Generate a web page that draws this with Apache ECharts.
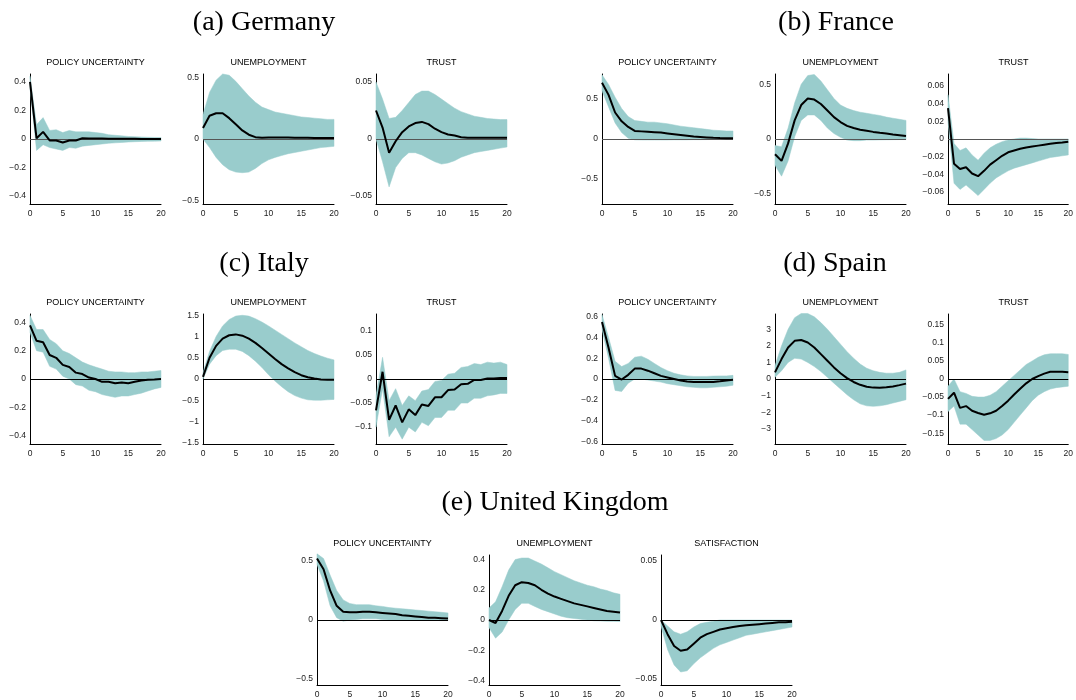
<!DOCTYPE html>
<html><head><meta charset="utf-8">
<script src="https://cdn.jsdelivr.net/npm/echarts@6/dist/echarts.min.js"></script>
<style>html,body{margin:0;padding:0;background:#fff}#c{width:1076px;height:700px}</style>
</head><body><div id="c"></div>
<script>
// horizon steps
const steps = [0,1,2,3,4,5,6,7,8,9,10,11,12,13,14,15,16,17,18,19,20];
const xTicks = [0,5,10,15,20];

// section titles
const sections = ['(a) Germany','(b) France','(c) Italy','(d) Spain','(e) United Kingdom'];
const panelTitles = ['POLICY UNCERTAINTY','UNEMPLOYMENT','TRUST','SATISFACTION'];

// Germany
const dePolicy   = [0.40,0.005,0.05,-0.01,-0.01,-0.025,-0.01,-0.01,0.005,0.004,0.004,0.003,0.002,0.002,0.001,0.001,0.001,0.0,0.0,0.0,0.0];
const dePolicyLo = [0.36,-0.08,-0.04,-0.06,-0.07,-0.08,-0.06,-0.065,-0.05,-0.045,-0.04,-0.035,-0.03,-0.027,-0.024,-0.021,-0.019,-0.017,-0.016,-0.015,-0.014];
const dePolicyHi = [0.44,0.10,0.15,0.06,0.065,0.045,0.06,0.05,0.05,0.05,0.045,0.04,0.03,0.026,0.022,0.018,0.016,0.014,0.012,0.011,0.01];
const deUnemp    = [0.09,0.19,0.21,0.21,0.17,0.12,0.07,0.035,0.015,0.01,0.012,0.012,0.013,0.012,0.011,0.01,0.01,0.009,0.009,0.008,0.008];
const deUnempLo  = [0.0,-0.07,-0.15,-0.21,-0.25,-0.27,-0.275,-0.27,-0.24,-0.2,-0.17,-0.15,-0.135,-0.12,-0.11,-0.1,-0.09,-0.08,-0.07,-0.065,-0.06];
const deUnempHi  = [0.2,0.38,0.48,0.53,0.52,0.47,0.41,0.35,0.3,0.26,0.24,0.22,0.21,0.2,0.19,0.18,0.175,0.17,0.165,0.16,0.16];
const deTrust    = [0.025,0.01,-0.012,-0.002,0.006,0.011,0.014,0.015,0.013,0.009,0.006,0.004,0.003,0.0015,0.001,0.001,0.001,0.001,0.001,0.001,0.001];
const deTrustLo  = [0.0,-0.02,-0.042,-0.025,-0.017,-0.012,-0.012,-0.014,-0.017,-0.02,-0.022,-0.021,-0.019,-0.016,-0.014,-0.012,-0.011,-0.01,-0.009,-0.008,-0.007];
const deTrustHi  = [0.05,0.035,0.018,0.019,0.025,0.032,0.039,0.042,0.042,0.039,0.035,0.031,0.027,0.024,0.022,0.02,0.019,0.018,0.0175,0.017,0.017];

// France
const frPolicy   = [0.70,0.55,0.33,0.22,0.15,0.10,0.095,0.09,0.085,0.08,0.07,0.06,0.05,0.04,0.03,0.025,0.02,0.015,0.012,0.01,0.01];
const frPolicyLo = [0.60,0.40,0.20,0.08,0.01,-0.01,-0.012,-0.012,-0.012,-0.012,-0.012,-0.01,-0.01,-0.01,-0.008,-0.008,-0.007,-0.006,-0.006,-0.005,-0.005];
const frPolicyHi = [0.80,0.68,0.52,0.38,0.28,0.23,0.22,0.21,0.21,0.2,0.19,0.175,0.16,0.15,0.14,0.13,0.12,0.11,0.105,0.1,0.1];
const frUnemp    = [-0.14,-0.2,-0.04,0.17,0.31,0.37,0.36,0.32,0.26,0.2,0.155,0.12,0.1,0.085,0.075,0.065,0.057,0.05,0.042,0.035,0.028];
const frUnempLo  = [-0.24,-0.34,-0.2,0.02,0.17,0.22,0.22,0.17,0.1,0.05,0.015,-0.01,-0.015,-0.015,-0.01,-0.01,-0.008,-0.007,-0.006,-0.005,-0.005];
const frUnempHi  = [-0.06,-0.07,0.1,0.33,0.5,0.58,0.59,0.53,0.45,0.37,0.31,0.28,0.26,0.245,0.235,0.225,0.215,0.2,0.19,0.18,0.17];
const frTrust    = [0.035,-0.028,-0.034,-0.032,-0.039,-0.042,-0.036,-0.029,-0.024,-0.019,-0.015,-0.013,-0.011,-0.0095,-0.0085,-0.0075,-0.0065,-0.0055,-0.0045,-0.004,-0.003];
const frTrustLo  = [0.02,-0.05,-0.057,-0.052,-0.058,-0.064,-0.057,-0.05,-0.044,-0.04,-0.036,-0.033,-0.031,-0.029,-0.027,-0.025,-0.023,-0.021,-0.02,-0.019,-0.018];
const frTrustHi  = [0.05,-0.005,-0.013,-0.01,-0.018,-0.024,-0.016,-0.01,-0.006,-0.003,-0.001,0.0,0.001,0.001,0.0005,0.0,0.0,0.0,0.0,0.0,0.0];

// Italy
const itPolicy   = [0.38,0.27,0.26,0.17,0.15,0.10,0.085,0.045,0.035,0.01,0.0,-0.02,-0.02,-0.03,-0.025,-0.03,-0.02,-0.01,-0.005,-0.003,0.0];
const itPolicyLo = [0.33,0.2,0.19,0.09,0.07,0.02,0.0,-0.04,-0.05,-0.08,-0.09,-0.11,-0.12,-0.13,-0.12,-0.12,-0.11,-0.1,-0.085,-0.07,-0.06];
const itPolicyHi = [0.45,0.35,0.35,0.28,0.25,0.2,0.18,0.15,0.12,0.1,0.085,0.07,0.055,0.05,0.05,0.045,0.045,0.05,0.05,0.055,0.06];
const itUnemp    = [0.05,0.5,0.78,0.95,1.03,1.05,1.02,0.95,0.85,0.73,0.6,0.47,0.35,0.25,0.16,0.09,0.04,0.01,-0.01,-0.02,-0.02];
const itUnempLo  = [0.0,0.35,0.55,0.67,0.7,0.7,0.65,0.55,0.42,0.27,0.1,-0.05,-0.18,-0.3,-0.39,-0.45,-0.49,-0.5,-0.5,-0.49,-0.48];
const itUnempHi  = [0.15,0.65,1.0,1.25,1.4,1.48,1.5,1.48,1.42,1.34,1.25,1.15,1.05,0.95,0.85,0.76,0.67,0.6,0.54,0.49,0.45];
const itTrust    = [-0.065,0.015,-0.085,-0.055,-0.09,-0.063,-0.075,-0.053,-0.056,-0.038,-0.038,-0.023,-0.022,-0.011,-0.01,-0.002,-0.002,0.001,0.001,0.002,0.002];
const itTrustLo  = [-0.1,-0.02,-0.12,-0.1,-0.125,-0.1,-0.11,-0.09,-0.097,-0.08,-0.08,-0.065,-0.065,-0.05,-0.05,-0.04,-0.04,-0.035,-0.033,-0.03,-0.03];
const itTrustHi  = [-0.035,0.045,-0.045,-0.02,-0.055,-0.035,-0.045,-0.025,-0.022,-0.005,-0.003,0.01,0.012,0.024,0.026,0.032,0.03,0.035,0.033,0.035,0.03];

// Spain
const esPolicy   = [0.55,0.3,0.03,-0.005,0.04,0.1,0.1,0.08,0.055,0.03,0.015,0.0,-0.015,-0.025,-0.03,-0.03,-0.03,-0.028,-0.022,-0.015,-0.008];
const esPolicyLo = [0.48,0.2,-0.11,-0.12,-0.04,0.0,0.0,-0.01,-0.02,-0.03,-0.045,-0.055,-0.065,-0.075,-0.08,-0.085,-0.085,-0.08,-0.075,-0.07,-0.06];
const esPolicyHi = [0.62,0.4,0.17,0.12,0.15,0.21,0.22,0.19,0.15,0.11,0.08,0.055,0.04,0.03,0.025,0.025,0.025,0.028,0.03,0.03,0.035];
const esUnemp    = [0.4,1.2,1.9,2.3,2.35,2.2,1.9,1.5,1.1,0.7,0.35,0.05,-0.18,-0.35,-0.47,-0.52,-0.53,-0.5,-0.45,-0.37,-0.28];
const esUnempLo  = [0.1,0.5,1.0,1.25,1.2,1.0,0.75,0.45,0.1,-0.25,-0.6,-0.95,-1.25,-1.5,-1.62,-1.65,-1.62,-1.55,-1.45,-1.35,-1.25];
const esUnempHi  = [0.8,2.0,3.0,3.7,3.95,3.95,3.75,3.4,3.0,2.55,2.1,1.65,1.25,0.9,0.65,0.5,0.4,0.35,0.35,0.4,0.55];
const esTrust    = [-0.055,-0.038,-0.08,-0.075,-0.088,-0.094,-0.099,-0.095,-0.088,-0.075,-0.06,-0.043,-0.027,-0.012,0.0,0.008,0.015,0.02,0.02,0.02,0.019];
const esTrustLo  = [-0.09,-0.075,-0.125,-0.125,-0.14,-0.155,-0.17,-0.17,-0.165,-0.155,-0.14,-0.12,-0.1,-0.08,-0.06,-0.045,-0.035,-0.028,-0.024,-0.022,-0.02];
const esTrustHi  = [-0.02,0.0,-0.035,-0.04,-0.048,-0.05,-0.05,-0.045,-0.035,-0.02,-0.005,0.01,0.025,0.04,0.05,0.06,0.067,0.07,0.07,0.07,0.068];

// United Kingdom
const ukPolicy   = [0.52,0.43,0.25,0.12,0.07,0.065,0.065,0.07,0.07,0.065,0.06,0.055,0.05,0.04,0.035,0.03,0.025,0.02,0.018,0.015,0.012];
const ukPolicyLo = [0.47,0.33,0.12,0.02,-0.01,0.0,0.005,0.01,0.01,0.01,0.005,0.0,0.0,0.0,-0.002,-0.003,-0.003,-0.004,-0.004,-0.005,-0.005];
const ukPolicyHi = [0.56,0.52,0.38,0.25,0.17,0.14,0.13,0.13,0.13,0.12,0.115,0.105,0.1,0.095,0.09,0.085,0.08,0.075,0.07,0.065,0.06];
const ukUnemp    = [0.0,-0.02,0.06,0.16,0.23,0.25,0.245,0.23,0.2,0.175,0.155,0.14,0.125,0.11,0.1,0.09,0.08,0.07,0.06,0.055,0.05];
const ukUnempLo  = [-0.05,-0.12,-0.08,0.0,0.07,0.11,0.11,0.09,0.07,0.055,0.04,0.025,0.015,0.01,0.005,0.0,-0.005,-0.006,-0.008,-0.009,-0.01];
const ukUnempHi  = [0.08,0.12,0.22,0.33,0.4,0.41,0.41,0.39,0.37,0.345,0.32,0.3,0.28,0.26,0.245,0.23,0.22,0.205,0.195,0.18,0.17];
const ukSatis    = [0.0,-0.012,-0.022,-0.026,-0.025,-0.02,-0.015,-0.012,-0.01,-0.008,-0.007,-0.006,-0.005,-0.0045,-0.004,-0.0035,-0.003,-0.0025,-0.002,-0.002,-0.0015];
const ukSatisLo  = [-0.005,-0.025,-0.038,-0.044,-0.043,-0.037,-0.032,-0.028,-0.024,-0.021,-0.019,-0.017,-0.015,-0.013,-0.012,-0.011,-0.01,-0.009,-0.008,-0.007,-0.006];
const ukSatisHi  = [0.0,-0.005,-0.01,-0.012,-0.01,-0.006,-0.003,-0.002,-0.001,0.0,0,0,0,0,0,0,0,0,0,0,0];

// y tick labels
const ticksPM04  = [-0.4,-0.2,0,0.2,0.4];
const ticksPM05  = [-0.5,0,0.5];
const ticksPM005 = [-0.05,0,0.05];
const ticksFrTr  = [-0.06,-0.04,-0.02,0,0.02,0.04,0.06];
const ticksItUn  = [-1.5,-1,-0.5,0,0.5,1,1.5];
const ticksItTr  = [-0.1,-0.05,0,0.05,0.1];
const ticksEsPo  = [-0.6,-0.4,-0.2,0,0.2,0.4,0.6];
const ticksEsUn  = [-3,-2,-1,0,1,2,3];
const ticksEsTr  = [-0.15,-0.1,-0.05,0,0.05,0.1,0.15];

const COL = [30,203,376,602,775,948];
const UKCOL = [317,489,661];
const ROWTOP = [74,314,555];
const W = 131, H = 130;

const panels = [
  {t:0, mid:dePolicy, lo:dePolicyLo, hi:dePolicyHi, ticks:ticksPM04, lim:0.456, left:COL[0], top:ROWTOP[0], zero:'#555'},
  {t:1, mid:deUnemp, lo:deUnempLo, hi:deUnempHi, ticks:ticksPM05, lim:0.53, left:COL[1], top:ROWTOP[0], zero:'#555'},
  {t:2, mid:deTrust, lo:deTrustLo, hi:deTrustHi, ticks:ticksPM005, lim:0.057, left:COL[2], top:ROWTOP[0], zero:'#555'},
  {t:0, mid:frPolicy, lo:frPolicyLo, hi:frPolicyHi, ticks:ticksPM05, lim:0.81, left:COL[3], top:ROWTOP[0], zero:'#555'},
  {t:1, mid:frUnemp, lo:frUnempLo, hi:frUnempHi, ticks:ticksPM05, lim:0.594, left:COL[4], top:ROWTOP[0], zero:'#555'},
  {t:2, mid:frTrust, lo:frTrustLo, hi:frTrustHi, ticks:ticksFrTr, lim:0.0735, left:COL[5], top:ROWTOP[0], zero:'#555'},
  {t:0, mid:itPolicy, lo:itPolicyLo, hi:itPolicyHi, ticks:ticksPM04, lim:0.46, left:COL[0], top:ROWTOP[1], zero:'#000'},
  {t:1, mid:itUnemp, lo:itUnempLo, hi:itUnempHi, ticks:ticksItUn, lim:1.53, left:COL[1], top:ROWTOP[1], zero:'#000'},
  {t:2, mid:itTrust, lo:itTrustLo, hi:itTrustHi, ticks:ticksItTr, lim:0.135, left:COL[2], top:ROWTOP[1], zero:'#000'},
  {t:0, mid:esPolicy, lo:esPolicyLo, hi:esPolicyHi, ticks:ticksEsPo, lim:0.626, left:COL[3], top:ROWTOP[1], zero:'#000'},
  {t:1, mid:esUnemp, lo:esUnempLo, hi:esUnempHi, ticks:ticksEsUn, lim:3.92, left:COL[4], top:ROWTOP[1], zero:'#000'},
  {t:2, mid:esTrust, lo:esTrustLo, hi:esTrustHi, ticks:ticksEsTr, lim:0.18, left:COL[5], top:ROWTOP[1], zero:'#000'},
  {t:0, mid:ukPolicy, lo:ukPolicyLo, hi:ukPolicyHi, ticks:ticksPM05, lim:0.55, left:UKCOL[0], top:ROWTOP[2], zero:'#000'},
  {t:1, mid:ukUnemp, lo:ukUnempLo, hi:ukUnempHi, ticks:ticksPM04, lim:0.43, left:UKCOL[1], top:ROWTOP[2], zero:'#000'},
  {t:3, mid:ukSatis, lo:ukSatisLo, hi:ukSatisHi, ticks:ticksPM005, lim:0.055, left:UKCOL[2], top:ROWTOP[2], zero:'#000'}
];

const sectionPos = [[264,23],[836,23],[264,264],[835,264],[555,503]];

const fmt = v => {
  if (Math.abs(v) < 1e-9) return '0';
  return String(+v.toFixed(4)).replace('-', '\u2212');
};

const grid = [], xAxis = [], yAxis = [], series = [], graphic = [];
const serifFont = 'Liberation Serif';
const sansFont = 'Liberation Sans';

sections.forEach((s, i) => {
  graphic.push({type:'text', x:sectionPos[i][0], y:sectionPos[i][1], silent:true,
    style:{text:s, fontFamily:serifFont, fontSize:28, fill:'#000', align:'center', verticalAlign:'middle', textAlign:'center', textVerticalAlign:'middle'}});
});

panels.forEach((p, i) => {
  grid.push({left:p.left, top:p.top, width:W, height:H, containLabel:false});
  xAxis.push({type:'value', gridIndex:i, min:0, max:20, interval:5,
    axisLine:{show:true, onZero:false, lineStyle:{color:'#000', width:1}},
    axisTick:{show:false}, splitLine:{show:false},
    axisLabel:{color:'#1a1a1a', fontSize:8.5, fontFamily:sansFont, margin:5}});
  yAxis.push({type:'value', gridIndex:i, min:-p.lim, max:p.lim,
    axisLine:{show:true, onZero:false, lineStyle:{color:'#000', width:1}},
    axisTick:{show:false, customValues:p.ticks}, splitLine:{show:false},
    axisLabel:{color:'#1a1a1a', fontSize:8.5, fontFamily:sansFont, margin:4, customValues:p.ticks, formatter:fmt, showMinLabel:true, showMaxLabel:true}});
  const bandData = steps.map((x, k) => [x, p.lo[k], p.hi[k]]);
  const midData = steps.map((x, k) => [x, p.mid[k]]);
  series.push({type:'custom', xAxisIndex:i, yAxisIndex:i, data:bandData, silent:true, z:1,
    encode:{x:0, y:[1,2]},
    renderItem:(params, api) => {
      if (params.dataIndex !== 0) return null;
      const upper = steps.map((x, k) => api.coord([x, p.hi[k]]));
      const lower = steps.map((x, k) => api.coord([x, p.lo[k]])).reverse();
      return {type:'polygon', shape:{points:upper.concat(lower)}, style:{fill:'#99cccc', stroke:'#99cccc', lineWidth:0.5}};
    }});
  series.push({type:'line', xAxisIndex:i, yAxisIndex:i, data:midData, symbol:'none', silent:true,
    lineStyle:{color:'#000', width:2}, z:3,
    markLine:{silent:true, symbol:['none','none'], label:{show:false}, animation:false, z:2,
      lineStyle:{color:p.zero, width:1, type:'solid'}, data:[{yAxis:0}]}});
  graphic.push({type:'text', x:p.left + W/2, y:p.top - 11, silent:true,
    style:{text:panelTitles[p.t], fontFamily:sansFont, fontSize:9, fill:'#000', align:'center', verticalAlign:'middle', textAlign:'center', textVerticalAlign:'middle'}});
});

const chart = echarts.init(document.getElementById('c'), null, {renderer:'canvas'});
chart.setOption({backgroundColor:'#fff', animation:false, grid, xAxis, yAxis, series, graphic});
</script>
</body></html>
